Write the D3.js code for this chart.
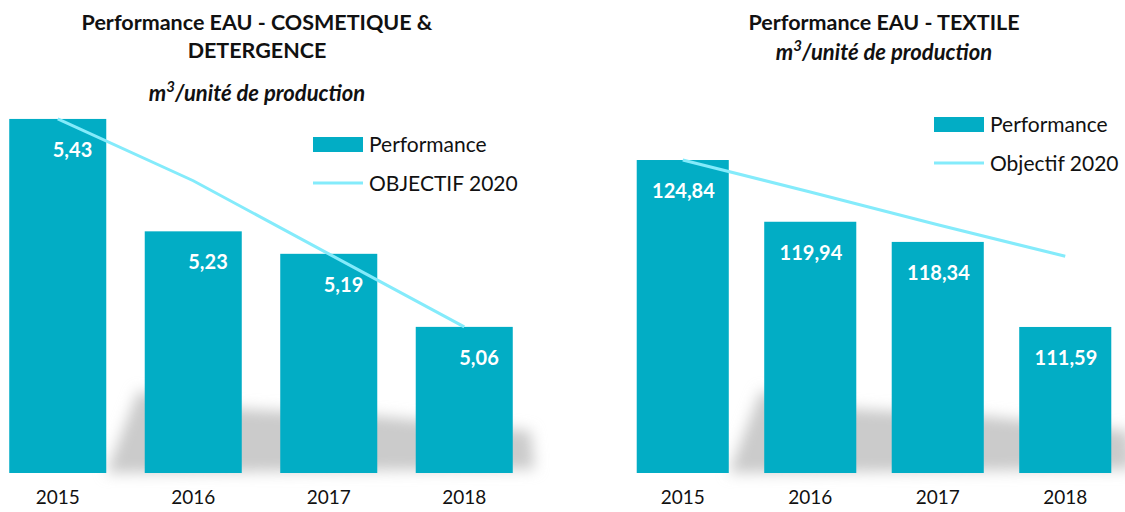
<!DOCTYPE html>
<html>
<head>
<meta charset="utf-8">
<script src="https://cdn.jsdelivr.net/npm/d3@7"></script>
<style>
  body { margin: 0; background: #fff; }
  svg { font-family: Lato, "Open Sans", sans-serif; }
</style>
</head>
<body>
<div id="app"></div>
<script>
const years = ['2015', '2016', '2017', '2018']

// cosmetique & detergence
const cosmPerf = [5.43, 5.23, 5.19, 5.06]
const cosmObj = [5.43, 5.32, 5.19, 5.06]
// textile
const textPerf = [124.84, 119.94, 118.34, 111.59]
const textObj = [124.84, 122.3, 119.7, 117.2]

const BAR = '#02adc5'
const LINE = '#84ebfb'
const fmt = v => d3.format('.2f')(v).replace('.', ',')

const svg = d3.select('#app').append('svg').attr('width', 1125).attr('height', 512)

const defs = svg.append('defs')
defs.append('filter').attr('id', 'blur').attr('x', '-20%').attr('y', '-50%').attr('width', '140%').attr('height', '200%')
  .append('feGaussianBlur').attr('stdDeviation', 7)

function chart(cfg) {
  const g = svg.append('g')
  const x = d3.scaleBand().domain(years).range(cfg.xRange).paddingInner(cfg.pad).paddingOuter(cfg.pad / 2)
  const y = d3.scaleLinear().domain(cfg.yDomain).range(cfg.yRange)
  const base = y(cfg.yDomain[0])
  const bw = x.bandwidth()

  // shadow behind the bars
  const sx0 = x(years[0]) + bw
  const sx1 = x(years[3]) + bw + 22
  const shadow = [[sx0, base], [sx0 + 32, base - 82], [x(years[1]) + bw, base - 64],
    [x(years[2]) + bw, base - 57], [sx1 - 4, base - 42], [sx1, base - 4]]
  g.append('path').attr('d', d3.line()(shadow) + 'Z')
    .attr('fill', '#cbcbcb').attr('filter', 'url(#blur)')

  g.selectAll('rect.bar').data(cfg.perf).join('rect').attr('class', 'bar')
    .attr('x', (d, i) => x(years[i])).attr('width', bw)
    .attr('y', d => y(d)).attr('height', d => base - y(d))
    .attr('fill', BAR)

  g.selectAll('text.val').data(cfg.perf).join('text').attr('class', 'val')
    .attr('x', (d, i) => x(years[i]) + bw - 14).attr('y', d => y(d) + 38)
    .attr('text-anchor', 'end').attr('fill', '#fff')
    .style('font-size', '20px').style('font-weight', 700)
    .text(fmt)

  g.append('path').datum(cfg.obj)
    .attr('d', d3.line().x((d, i) => x(years[i]) + bw / 2).y(d => y(d)))
    .attr('fill', 'none').attr('stroke', LINE).attr('stroke-width', 3)

  g.selectAll('text.yr').data(years).join('text').attr('class', 'yr')
    .attr('x', d => x(d) + bw / 2).attr('y', 504)
    .attr('text-anchor', 'middle').attr('fill', '#111').style('font-size', '19px')
    .text(d => d)

  // titles
  cfg.title.forEach((t, i) => {
    g.append('text').attr('x', cfg.cx).attr('y', cfg.titleY[i])
      .attr('text-anchor', 'middle').style('font-size', '21.5px').style('font-weight', 700)
      .attr('fill', '#111').text(t)
  })
  const st = g.append('text').attr('x', cfg.cx).attr('y', cfg.subY)
    .attr('text-anchor', 'middle').style('font-size', '22px').style('font-weight', 700)
    .style('font-style', 'italic').attr('fill', '#111')
  st.append('tspan').text('m')
  st.append('tspan').attr('dy', -9).style('font-size', '15px').text('3')
  st.append('tspan').attr('dy', 9).text('/unité de production')

  // legend
  const lg = g.append('g').attr('transform', `translate(${cfg.legend[0]},${cfg.legend[1]})`)
  lg.append('rect').attr('x', 0).attr('y', 0).attr('width', 50).attr('height', 15).attr('fill', BAR)
  lg.append('text').attr('x', 56).attr('y', 15).style('font-size', '21px').attr('fill', '#111').text('Performance')
  lg.append('line').attr('x1', 0).attr('x2', 50).attr('y1', 46).attr('y2', 46)
    .attr('stroke', LINE).attr('stroke-width', 3)
  lg.append('text').attr('x', 56).attr('y', 54).style('font-size', '21px').attr('fill', '#111').text(cfg.objLabel)
}

chart({
  perf: cosmPerf, obj: cosmObj,
  xRange: [-10, 532], pad: 0.284,
  yDomain: [4.8, 5.5], yRange: [473, 473 - 0.7 * 562],
  cx: 257, title: ['Performance EAU - COSMETIQUE &', 'DETERGENCE'], titleY: [30, 58], subY: 101,
  legend: [313, 137], objLabel: 'OBJECTIF 2020'
})

chart({
  perf: textPerf, obj: textObj,
  xRange: [619, 1129], pad: 0.278,
  yDomain: [100, 130], yRange: [473, 473 - 30 * 12.6],
  cx: 884, title: ['Performance EAU - TEXTILE'], titleY: [30], subY: 60,
  legend: [934, 117], objLabel: 'Objectif 2020'
})
</script>
</body>
</html>
